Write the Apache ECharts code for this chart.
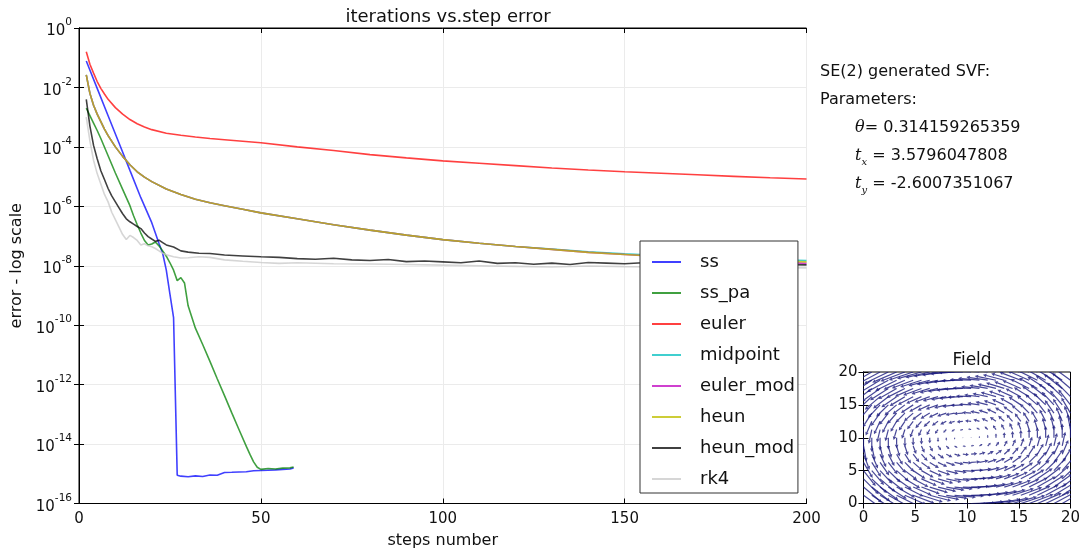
<!DOCTYPE html>
<html>
<head>
<meta charset="utf-8">
<script src="https://cdn.jsdelivr.net/npm/echarts@6/dist/echarts.min.js"></script>
<style>
html,body{margin:0;padding:0;background:#fff;}
#chart{width:1084px;height:554px;}
</style>
</head>
<body>
<div id="chart"></div>
<script>
// ---------------- data ----------------
const smoothSteps = [2,3,4,5,6,7,8,10,12,14,16,18,20,24,28,32,36,40,45,50,60,70,80,90,100,110,120,130,140,150,160,170,180,190,200];
const eulerErr = [1.58e-1,6.03e-2,3.02e-2,1.58e-2,9.33e-3,6.03e-3,3.98e-3,2.09e-3,1.26e-3,8.32e-4,6.03e-4,4.68e-4,3.80e-4,2.88e-4,2.45e-4,2.14e-4,1.91e-4,1.74e-4,1.55e-4,1.38e-4,1.00e-4,7.59e-5,5.50e-5,4.27e-5,3.39e-5,2.82e-5,2.34e-5,1.95e-5,1.66e-5,1.45e-5,1.29e-5,1.15e-5,1.02e-5,9.12e-6,8.32e-6];
const heunErr = [2.63e-2,6.31e-3,2.51e-3,1.26e-3,7.08e-4,3.98e-4,2.40e-4,1.00e-4,4.79e-5,2.51e-5,1.45e-5,9.55e-6,6.76e-6,3.80e-6,2.51e-6,1.74e-6,1.32e-6,1.05e-6,7.94e-7,6.03e-7,3.80e-7,2.40e-7,1.58e-7,1.07e-7,7.59e-8,5.75e-8,4.47e-8,3.55e-8,2.82e-8,2.40e-8,2.04e-8,1.82e-8,1.62e-8,1.48e-8,1.35e-8];
const midpointErr = [2.63e-2,6.31e-3,2.51e-3,1.26e-3,7.08e-4,3.98e-4,2.40e-4,1.00e-4,4.79e-5,2.51e-5,1.45e-5,9.55e-6,6.76e-6,3.80e-6,2.51e-6,1.74e-6,1.32e-6,1.05e-6,7.94e-7,6.03e-7,3.80e-7,2.40e-7,1.58e-7,1.07e-7,7.59e-8,5.75e-8,4.47e-8,3.63e-8,2.95e-8,2.51e-8,2.19e-8,1.95e-8,1.78e-8,1.62e-8,1.51e-8];
const eulerModErr = [2.63e-2,6.31e-3,2.51e-3,1.26e-3,7.08e-4,3.98e-4,2.40e-4,1.00e-4,4.79e-5,2.51e-5,1.45e-5,9.55e-6,6.76e-6,3.80e-6,2.51e-6,1.74e-6,1.32e-6,1.05e-6,7.94e-7,6.03e-7,3.80e-7,2.40e-7,1.58e-7,1.07e-7,7.59e-8,5.75e-8,4.47e-8,3.55e-8,2.82e-8,2.40e-8,2.00e-8,1.74e-8,1.51e-8,1.35e-8,1.20e-8];

const ssSteps = [2,5,8,11,14,17,20,22,23,24,25,26,27,28,30,32,34,36,38,40,42,44,46,48,50,52,54,56,58,59];
const ssErr = [7.76e-2,9.33e-3,1.12e-3,1.35e-4,1.62e-5,1.95e-6,2.82e-7,5.62e-8,2.63e-8,7.08e-9,1.12e-9,1.78e-10,8.91e-16,8.32e-16,7.94e-16,8.51e-16,8.13e-16,9.12e-16,8.91e-16,1.10e-15,1.12e-15,1.15e-15,1.17e-15,1.26e-15,1.29e-15,1.32e-15,1.35e-15,1.41e-15,1.45e-15,1.58e-15];

const ssPaSteps = [2,3,4,5,6,8,10,12,14,15,16,17,18,19,20,21,22,23,24,25,26,27,28,29,30,32,34,36,38,40,42,44,46,47,48,49,50,52,54,56,58,59];
const ssPaErr = [2.00e-3,1.12e-3,6.31e-4,3.55e-4,1.91e-4,5.01e-5,1.32e-5,3.72e-6,1.05e-6,4.79e-7,2.40e-7,1.26e-7,7.08e-8,5.01e-8,5.37e-8,6.31e-8,4.68e-8,3.16e-8,2.09e-8,1.26e-8,7.08e-9,3.16e-9,3.98e-9,2.63e-9,4.47e-10,7.94e-11,2.24e-11,6.03e-12,1.58e-12,4.27e-13,1.12e-13,3.02e-14,8.32e-15,4.47e-15,2.51e-15,1.66e-15,1.41e-15,1.51e-15,1.45e-15,1.55e-15,1.58e-15,1.70e-15];

const heunModSteps = [2,3,4,5,6,7,8,9,10,11,12,13,14,15,16,17,18,19,20,21,22,23,24,26,28,30,33,36,40,45,50,55,60,65,70,75,80,85,90,95,100,105,110,115,120,125,130,135,140,145,150,155,160,170,180,190,200];
const heunModErr = [3.98e-3,5.01e-4,1.12e-4,3.98e-5,1.58e-5,7.94e-6,3.98e-6,2.24e-6,1.41e-6,8.91e-7,5.62e-7,3.80e-7,3.02e-7,2.51e-7,2.09e-7,1.78e-7,1.26e-7,9.55e-8,7.94e-8,6.61e-8,7.24e-8,6.03e-8,5.01e-8,4.27e-8,3.16e-8,2.88e-8,2.63e-8,2.57e-8,2.29e-8,2.14e-8,2.00e-8,1.91e-8,1.74e-8,1.66e-8,1.78e-8,1.58e-8,1.51e-8,1.62e-8,1.38e-8,1.45e-8,1.35e-8,1.26e-8,1.45e-8,1.20e-8,1.26e-8,1.12e-8,1.23e-8,1.10e-8,1.29e-8,1.23e-8,1.17e-8,1.26e-8,1.15e-8,1.12e-8,1.17e-8,1.10e-8,1.07e-8];

const rk4Steps = [2,3,4,5,6,7,8,9,10,11,12,13,14,15,16,17,18,19,20,21,22,23,24,26,28,30,33,36,40,45,50,55,60,70,80,90,100,110,120,130,140,150,160,170,180,190,200];
const rk4Err = [1.00e-3,1.58e-4,3.55e-5,1.26e-5,5.62e-6,2.51e-6,1.41e-6,6.31e-7,3.55e-7,2.00e-7,1.12e-7,7.59e-8,1.05e-7,8.91e-8,7.08e-8,5.01e-8,5.50e-8,4.68e-8,4.37e-8,3.80e-8,3.16e-8,2.63e-8,2.34e-8,2.00e-8,1.82e-8,1.86e-8,2.00e-8,1.91e-8,1.58e-8,1.41e-8,1.29e-8,1.20e-8,1.26e-8,1.17e-8,1.15e-8,1.10e-8,1.05e-8,1.00e-8,9.55e-9,9.12e-9,9.77e-9,9.33e-9,9.12e-9,8.91e-9,8.91e-9,8.71e-9,8.51e-9];

const seriesNames = ['ss','ss_pa','euler','midpoint','euler_mod','heun','heun_mod','rk4'];
const xTicks = [0, 50, 100, 150, 200];

// SE(2) parameters shown in the picture
const paramTheta = 0.314159265359;
const paramTx = 3.5796047808;
const paramTy = -2.6007351067;
// quiver sample positions (field inset)
const fieldXs = [0,0.8,1.6,2.4,3.2,4,4.8,5.6,6.4,7.2,8,8.8,9.6,10.4,11.2,12,12.8,13.6,14.4,15.2,16,16.8,17.6,18.4,19.2,20];
const fieldYs = [0,1.25,2.5,3.75,5,6.25,7.5,8.75,10,11.25,12.5,13.75,15,16.25,17.5,18.75,20];

// ---------------- build ----------------
const FONT = "'DejaVu Sans', 'Noto Sans', sans-serif";
const colors = ['rgba(0,0,255,0.75)','rgba(0,128,0,0.75)','rgba(255,0,0,0.75)','rgba(0,191,191,0.75)','rgba(191,0,191,0.75)','rgba(191,191,0,0.78)','rgba(0,0,0,0.75)','rgba(200,200,200,0.75)'];
const pairs = (xs, ys) => xs.map((x, i) => [x, ys[i]]);
const seriesData = [
  pairs(ssSteps, ssErr),
  pairs(ssPaSteps, ssPaErr),
  pairs(smoothSteps, eulerErr),
  pairs(smoothSteps, midpointErr),
  pairs(smoothSteps, eulerModErr),
  pairs(smoothSteps, heunErr),
  pairs(heunModSteps, heunModErr),
  pairs(rk4Steps, rk4Err)
];

// stationary velocity field of the SE(2) transform (rotation theta about its fixed point)
const ca = 1 - Math.cos(paramTheta), sa = Math.sin(paramTheta), det = ca*ca + sa*sa;
const centerX = (ca*paramTx - sa*paramTy)/det;
const centerY = (sa*paramTx + ca*paramTy)/det;
const fieldData = [];
fieldYs.forEach(y => fieldXs.forEach(x => {
  fieldData.push([x, y, -paramTheta*(y - centerY), paramTheta*(x - centerX)]);
}));
const arrowScale = 0.75;
const arrowColor = 'rgba(25,25,125,0.8)';

const tickLabel = {fontSize: 15, color: '#111', fontFamily: FONT};
const axisLineBlack = {show: true, lineStyle: {color: '#000', width: 1}};
const tickIn = {show: true, inside: true, length: 5, lineStyle: {color: '#000'}};

const lineSeries = seriesNames.map((n, i) => ({
  name: n, type: 'line', xAxisIndex: 0, yAxisIndex: 0,
  data: seriesData[i], showSymbol: false, symbol: 'none',
  color: colors[i], lineStyle: {width: 1.6, color: colors[i]},
  clip: true, animation: false
}));

const quiver = {
  type: 'custom', name: 'field', xAxisIndex: 2, yAxisIndex: 2, clip: true, animation: false,
  data: fieldData,
  renderItem(params, api) {
    const x = api.value(0), y = api.value(1), u = api.value(2), v = api.value(3);
    const p0 = api.coord([x, y]);
    const p1 = api.coord([x + arrowScale*u, y + arrowScale*v]);
    const dx = p1[0]-p0[0], dy = p1[1]-p0[1];
    const len = Math.hypot(dx, dy);
    if (len < 0.5) {
      return {type: 'circle', shape: {cx: p0[0], cy: p0[1], r: 0.8}, style: {fill: arrowColor}};
    }
    const ux = dx/len, uy = dy/len;
    const hl = Math.min(3.5, len*0.5), hw = Math.min(1.8, len*0.3);
    const bx = p1[0]-ux*hl, by = p1[1]-uy*hl;
    return {type: 'group', children: [
      {type: 'line', shape: {x1: p0[0], y1: p0[1], x2: bx, y2: by}, style: {stroke: arrowColor, lineWidth: 1.2}},
      {type: 'polygon', shape: {points: [[p1[0], p1[1]], [bx - uy*hw, by + ux*hw], [bx + uy*hw, by - ux*hw]]}, style: {fill: arrowColor}}
    ]};
  }
};

const mathRich = {
  m: {fontFamily: "'DejaVu Serif', serif", fontStyle: 'italic', fontSize: 16, lineHeight: 22, verticalAlign: 'middle', fill: '#111'},
  q: {fontFamily: "'DejaVu Serif', serif", fontSize: 16, lineHeight: 22, verticalAlign: 'middle', fill: '#111'},
  s: {fontFamily: "'DejaVu Serif', serif", fontStyle: 'italic', fontSize: 10, lineHeight: 12, verticalAlign: 'bottom', fill: '#111'},
  n: {fontFamily: FONT, fontSize: 16, lineHeight: 22, verticalAlign: 'middle', fill: '#111'}
};

const option = {
  backgroundColor: '#fff',
  animation: false,
  title: [
    {text: 'iterations vs.step error', left: 443, top: 3, textAlign: 'center',
     textStyle: {fontSize: 18, fontWeight: 'normal', color: '#111', fontFamily: FONT}},
    {text: 'Field', left: 967, top: 347, textAlign: 'center',
     textStyle: {fontSize: 17, fontWeight: 'normal', color: '#111', fontFamily: FONT}}
  ],
  legend: {
    data: seriesNames, orient: 'vertical', left: 640, top: 241,
    padding: [11, 3, 4, 12], itemGap: 11, itemWidth: 29, itemHeight: 2, icon: 'rect',
    backgroundColor: '#fff', borderColor: '#333', borderWidth: 1, borderRadius: 0,
    selectedMode: false,
    textStyle: {fontSize: 18, color: '#111', fontFamily: FONT, padding: [0, 0, 0, 14], lineHeight: 20}
  },
  grid: [
    {left: 79, top: 28, width: 727.5, height: 475.5, show: true, borderColor: '#000', borderWidth: 1,
     backgroundColor: 'transparent', containLabel: false, outerBoundsMode: 'none'},
    {left: 863.5, top: 372, width: 207, height: 131.5, show: true, borderColor: '#000', borderWidth: 1,
     backgroundColor: 'transparent', containLabel: false, outerBoundsMode: 'none'}
  ],
  xAxis: [
    {type: 'value', gridIndex: 0, min: 0, max: 200, interval: 50, position: 'bottom',
     axisLine: axisLineBlack, axisTick: tickIn, axisLabel: Object.assign({margin: 8, formatter: v => xTicks.includes(v) ? String(v) : ''}, tickLabel),
     splitLine: {show: true, lineStyle: {color: '#ebebeb', width: 1}},
     name: 'steps number', nameLocation: 'middle', nameGap: 29,
     nameTextStyle: {fontSize: 16, color: '#111', fontFamily: FONT}},
    {type: 'value', gridIndex: 0, min: 0, max: 200, interval: 50, position: 'top',
     axisLine: axisLineBlack, axisTick: tickIn, axisLabel: {show: false}, splitLine: {show: false}},
    {type: 'value', gridIndex: 1, min: 0, max: 20, interval: 5, position: 'bottom',
     axisLine: axisLineBlack, axisTick: tickIn, axisLabel: Object.assign({margin: 7}, tickLabel), splitLine: {show: false}},
    {type: 'value', gridIndex: 1, min: 0, max: 20, interval: 5, position: 'top',
     axisLine: axisLineBlack, axisTick: tickIn, axisLabel: {show: false}, splitLine: {show: false}}
  ],
  yAxis: [
    {type: 'log', logBase: 10, gridIndex: 0, min: 1e-16, max: 1, interval: 2, position: 'left',
     axisLine: axisLineBlack, axisTick: tickIn,
     axisLabel: {margin: 7, formatter: v => '{b|10}{s|' + Math.round(Math.log10(v)) + '}',
       rich: {b: {fontSize: 15, lineHeight: 22, verticalAlign: 'bottom', color: '#111', fontFamily: FONT},
              s: {fontSize: 10.5, lineHeight: 12, verticalAlign: 'top', color: '#111', fontFamily: FONT}}},
     splitLine: {show: true, lineStyle: {color: '#ebebeb', width: 1}},
     name: 'error - log scale', nameLocation: 'middle', nameGap: 53, nameRotate: 90,
     nameTextStyle: {fontSize: 16, color: '#111', fontFamily: FONT}},
    {type: 'log', logBase: 10, gridIndex: 0, min: 1e-16, max: 1, interval: 2, position: 'right',
     axisLine: axisLineBlack, axisTick: tickIn, axisLabel: {show: false}, splitLine: {show: false}},
    {type: 'value', gridIndex: 1, min: 0, max: 20, interval: 5, position: 'left',
     axisLine: axisLineBlack, axisTick: tickIn, axisLabel: Object.assign({margin: 6}, tickLabel), splitLine: {show: false}},
    {type: 'value', gridIndex: 1, min: 0, max: 20, interval: 5, position: 'right',
     axisLine: axisLineBlack, axisTick: tickIn, axisLabel: {show: false}, splitLine: {show: false}}
  ],
  graphic: [
    {type: 'text', x: 820, y: 72, style: {text: 'SE(2) generated SVF:', font: '16px ' + FONT, fill: '#111', verticalAlign: 'middle'}},
    {type: 'text', x: 820, y: 100, style: {text: 'Parameters:', font: '16px ' + FONT, fill: '#111', verticalAlign: 'middle'}},
    {type: 'text', x: 855, y: 128, style: {text: '{m|θ}{q|=}{n| ' + String(paramTheta) + '}', rich: mathRich, font: '16px ' + FONT, fill: '#111', verticalAlign: 'middle'}},
    {type: 'text', x: 855, y: 156, style: {text: '{m|t}{s|x}{q| =}{n| ' + String(paramTx) + '}', rich: mathRich, font: '16px ' + FONT, fill: '#111', verticalAlign: 'middle'}},
    {type: 'text', x: 855, y: 184, style: {text: '{m|t}{s|y}{q| =}{n| ' + String(paramTy) + '}', rich: mathRich, font: '16px ' + FONT, fill: '#111', verticalAlign: 'middle'}}
  ],
  series: lineSeries.concat([quiver])
};

const chart = echarts.init(document.getElementById('chart'), null, {renderer: 'canvas'});
chart.setOption(option);
</script>
</body>
</html>
